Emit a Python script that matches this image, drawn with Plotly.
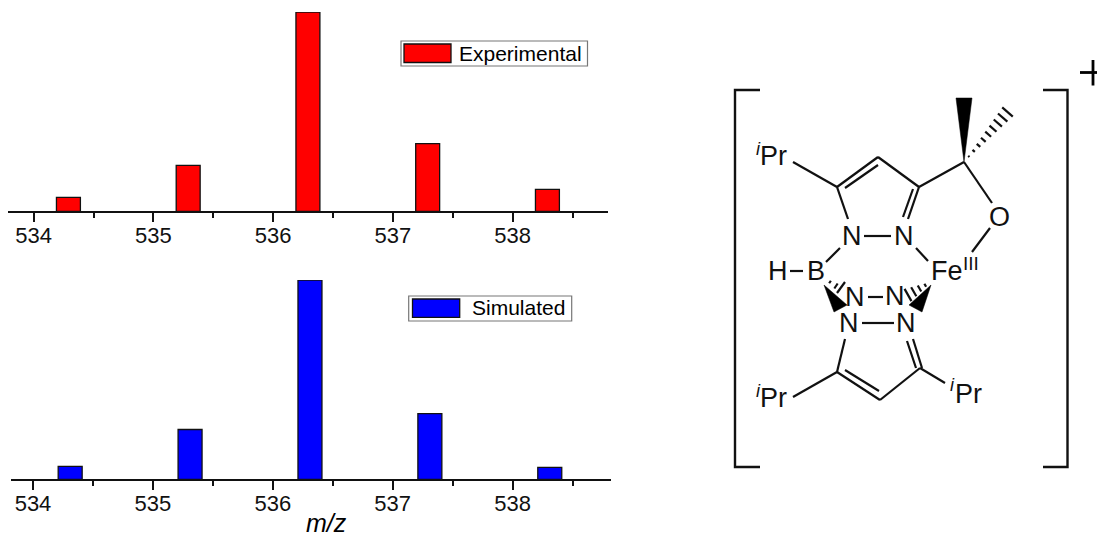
import plotly.graph_objects as go

W, H = 1097, 537
FONT = "Liberation Sans"

# ---------- chart data ----------
exp_mz = [534.29, 535.29, 536.29, 537.29, 538.29]
exp_intensity = [7.0, 23.0, 100.0, 34.0, 11.0]
sim_mz = [534.31, 535.31, 536.31, 537.31, 538.31]
sim_intensity = [6.5, 25.0, 100.0, 33.0, 6.0]
major_ticks = [534, 535, 536, 537, 538]
tick_labels = ["534", "535", "536", "537", "538"]
minor_ticks = [534.5, 535.5, 536.5, 537.5, 538.5]
exp_name = "Experimental"
sim_name = "Simulated"
x_title = "<i>m/z</i>"

# ---------- molecular diagram (pixel positions on the page) ----------
bonds = [
    (793, 162, 837, 187), (837, 187, 878, 157), (845, 188, 878, 165),
    (878, 157, 919, 187), (919, 187, 908, 219), (913, 189, 903, 217),
    (837, 187, 848, 219), (864, 236, 891, 236), (919, 187, 964, 162),
    (964, 162, 992, 203), (990, 228, 972, 252), (840, 248, 826, 262),
    (916, 248, 928, 261), (790, 271, 803, 271), (868, 297, 883, 297),
    (862, 323, 894, 323), (845, 339, 837, 372), (837, 372, 880, 400),
    (845, 370, 879, 391), (880, 400, 920, 368), (913, 339, 922, 368),
    (907, 341, 916, 368), (793, 397, 837, 372), (920, 368, 945, 383),
    (845, 282, 837, 293),
]
brackets = [
    [(760, 90), (735, 90), (735, 467), (760, 467)],
    [(1043, 90), (1067.5, 90), (1067.5, 467), (1043, 467)],
]
plus_sign = [(1080, 72.5, 1097, 72.5), (1093, 60, 1093, 85.5)]
wedges = [
    [(964, 162), (956, 98), (972, 98)],
    [(824, 285), (834, 312), (847, 305)],
    [(931, 285), (909, 305), (922, 312)],
]
# start (narrow end), stop (wide end), stripes, half-width at the wide end
hashes = [
    (964, 162, 1007.5, 112, 9, 7),
    (931, 282, 908, 295, 4, 7),
    (824, 278, 836, 286, 2, 3),
]
atoms = [
    ("N", 852, 236), ("N", 904, 236), ("O", 999, 217), ("H", 778, 271),
    ("B", 816, 271), ("Fe", 947, 271), ("N", 855, 297), ("N", 895, 296),
    ("N", 849, 323), ("N", 906, 323),
]
iso_labels = [("Pr", 773, 156), ("Pr", 773, 398), ("Pr", 968, 394)]
iso_marks = [("i", 758, 149), ("i", 758, 391), ("i", 952, 385)]
fe_charge = ("III", 970.5, 264)
x_title_pos = (326, 522.5)


def px(x):
    return x / W


def py(y):
    return 1 - y / H


def dom_y(top, base):
    return [py(base), py(top)]


def axis_range(x_left, x_right, x534, unit):
    return [534 + (x_left - x534) / unit, 534 + (x_right - x534) / unit]


fig = go.Figure()
fig.add_bar(x=exp_mz, y=exp_intensity, name=exp_name, xaxis="x", yaxis="y",
            width=0.2, marker=dict(color="#ff0000", line=dict(color="#111111", width=1.3)),
            showlegend=False)
fig.add_bar(x=sim_mz, y=sim_intensity, name=sim_name, xaxis="x2", yaxis="y2",
            width=0.2, marker=dict(color="#0000ff", line=dict(color="#111111", width=1.3)),
            showlegend=False)

axis_style = dict(
    tickmode="array", tickvals=major_ticks, ticktext=tick_labels,
    ticks="outside", ticklen=9, tickwidth=1.5, tickcolor="#111111",
    showline=True, linecolor="#111111", linewidth=1.5,
    showgrid=False, zeroline=False, ticklabelstandoff=-5,
    tickfont=dict(family=FONT, size=22, color="#111111"),
    minor=dict(tickvals=minor_ticks, ticks="outside", ticklen=5, tickwidth=1.5,
               tickcolor="#111111", showgrid=False),
)
shapes = []
annotations = []


def line(x0, y0, x1, y1, width=2.2, color="#111111"):
    shapes.append(dict(type="line", xref="paper", yref="paper",
                       x0=px(x0), y0=py(y0), x1=px(x1), y1=py(y1),
                       line=dict(color=color, width=width)))


def text(s, x, y, size=27, italic=False, color="#111111"):
    annotations.append(dict(text=f"<i>{s}</i>" if italic else s, xref="paper", yref="paper",
                            x=px(x), y=py(y), xanchor="center", yanchor="middle",
                            showarrow=False, font=dict(family=FONT, size=size, color=color)))


def legend(box, swatch, fill, label, tx, ty):
    shapes.append(dict(type="rect", xref="paper", yref="paper",
                       x0=px(box[0]), x1=px(box[2]), y0=py(box[1]), y1=py(box[3]),
                       fillcolor="white", line=dict(color="#777777", width=1.2)))
    shapes.append(dict(type="rect", xref="paper", yref="paper",
                       x0=px(swatch[0]), x1=px(swatch[2]), y0=py(swatch[1]), y1=py(swatch[3]),
                       fillcolor=fill, line=dict(color="#111111", width=1.3)))
    text(label, tx, ty, size=21, color="black")


legend((401, 41, 587.5, 66), (404, 44, 451, 62.5), "#ff0000", exp_name, 520.5, 53.5)
legend((408.7, 296, 571.7, 321), (412.5, 299, 459.7, 317.3), "#0000ff", sim_name, 518.5, 307.5)

for b in bonds:
    line(*b)
for pts in brackets:
    path = "M " + " L ".join(f"{px(x)} {py(y)}" for x, y in pts)
    shapes.append(dict(type="path", xref="paper", yref="paper", path=path,
                       line=dict(color="#111111", width=2.4)))
for b in plus_sign:
    line(*b, width=2.8, color="black")
for pts in wedges:
    path = "M " + " L ".join(f"{px(x)} {py(y)}" for x, y in pts) + " Z"
    shapes.append(dict(type="path", xref="paper", yref="paper", path=path,
                       fillcolor="black", line=dict(color="black", width=0.5)))
for x0, y0, x1, y1, n, hw in hashes:
    dx, dy = x1 - x0, y1 - y0
    ln = (dx * dx + dy * dy) ** 0.5
    nx, ny = -dy / ln, dx / ln
    for i in range(1, n + 1):
        f = i / n
        cx, cy = x0 + dx * f, y0 + dy * f
        h = hw * f
        line(cx - nx * h, cy - ny * h, cx + nx * h, cy + ny * h, width=2.2)
for s, x, y in atoms:
    text(s, x, y)
for s, x, y in iso_labels:
    text(s, x, y)
for s, x, y in iso_marks:
    text(s, x, y, size=18, italic=True)
text(fe_charge[0], fe_charge[1], fe_charge[2], size=19)
text(x_title, x_title_pos[0], x_title_pos[1], size=25, color="black")

fig.update_layout(
    width=W, height=H, margin=dict(l=0, r=0, t=0, b=0, autoexpand=False),
    paper_bgcolor="white", plot_bgcolor="rgba(0,0,0,0)",
    barmode="overlay", showlegend=False,
    shapes=shapes, annotations=annotations,
    xaxis=dict(domain=[px(7.7), px(608)], range=axis_range(7.7, 608, 33.7, 119.75),
               anchor="y", **axis_style),
    yaxis=dict(domain=dom_y(12, 211.3), range=[0, 100], visible=False, anchor="x"),
    xaxis2=dict(domain=[px(10.7), px(610.7)], range=axis_range(10.7, 610.7, 33, 119.9),
                anchor="y2", **axis_style),
    yaxis2=dict(domain=dom_y(280, 479.3), range=[0, 100], visible=False, anchor="x2"),
)
fig.write_html("out.html", config=dict(displayModeBar=False),
               post_script="document.body.style.margin='0';")
